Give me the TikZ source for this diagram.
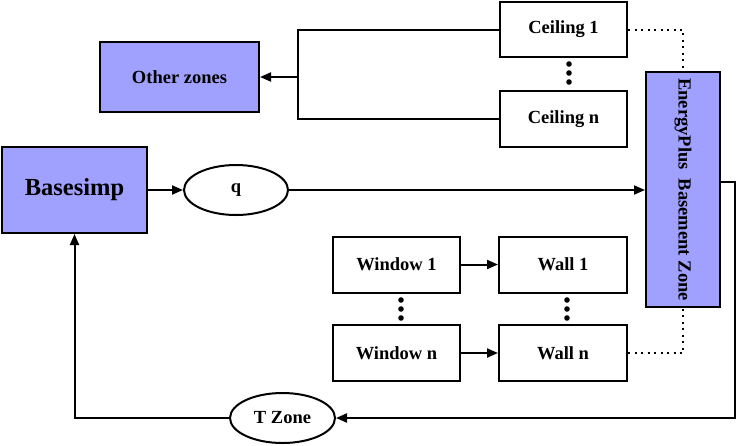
\documentclass[tikz,border=0pt]{standalone}
\usepackage{fontspec}
\setmainfont{Liberation Serif}
\usetikzlibrary{arrows.meta,shapes.geometric}
\definecolor{zonefill}{RGB}{160,160,255}
\begin{document}
\begin{tikzpicture}[x=1pt,y=-1pt,
  lab/.style={font=\bfseries\fontsize{18.5}{21}\selectfont},
  box/.style={draw,line width=2pt,rectangle,inner sep=0pt,lab},
  pbox/.style={box,fill=zonefill},
  oval/.style={draw,line width=2pt,ellipse,inner sep=0pt,lab},
  conn/.style={line width=2pt},
  arr/.style={line width=2pt,-{Triangle[length=11pt,width=9pt]}},
  dot/.style={line width=2pt,dash pattern=on 2pt off 4.5pt}
]
\useasboundingbox (0,0) rectangle (736,445);
\node[pbox,minimum width=159,minimum height=70] (oz) at (179.5,77) {Other zones};
\node[box,minimum width=127,minimum height=55] (c1) at (563.5,29.5) {Ceiling 1};
\node[box,minimum width=127,minimum height=56] (cn) at (563.5,119) {Ceiling n};
\node[pbox,minimum width=74,minimum height=235] (ep) at (683,189.5) {};
\node[rotate=-90,lab] (eptext) at (ep.center) {EnergyPlus~ Basement Zone};
\node[pbox,minimum width=145,minimum height=86,font=\bfseries\fontsize{24.5}{28}\selectfont] (bs) at (74.5,190) {Basesimp};
\node[oval,minimum width=104,minimum height=50] (q) at (236,190) {q};
\node[box,minimum width=127,minimum height=56] (w1) at (396.5,264.5) {Window 1};
\node[box,minimum width=127,minimum height=56] (wn) at (396.5,353) {Window n};
\node[box,minimum width=128,minimum height=56] (l1) at (563,264.5) {Wall 1};
\node[box,minimum width=128,minimum height=56] (ln) at (563,353) {Wall n};
\node[oval,minimum width=105,minimum height=50] (tz) at (282.5,418) {T Zone};

\coordinate (j) at (298,77);
\coordinate (epo) at (720,182);
\coordinate (rc) at (735,418);

\draw[conn] (c1.west) -| (j) |- (cn.west);
\draw[arr] (j) -- (oz.east);
\draw[arr] (bs.east) -- (q.west);
\draw[arr] (q.east) -- (q.east -| ep.west);
\draw[arr] (w1.east) -- (l1.west);
\draw[arr] (wn.east) -- (ln.west);
\draw[dot] (c1.east) -| (ep.north);
\draw[dot] (ln.east) -| (ep.south);
\draw[arr] (epo) -| (rc) -- (tz.east);
\draw[arr] (tz.west) -| (bs.south);

\foreach \x/\ys in {569/64, 569/73, 569/82, 401/300, 401/309, 401/318, 567/300, 567/309, 567/318}
  \fill (\x,\ys) circle (2.8);
\end{tikzpicture}
\end{document}
